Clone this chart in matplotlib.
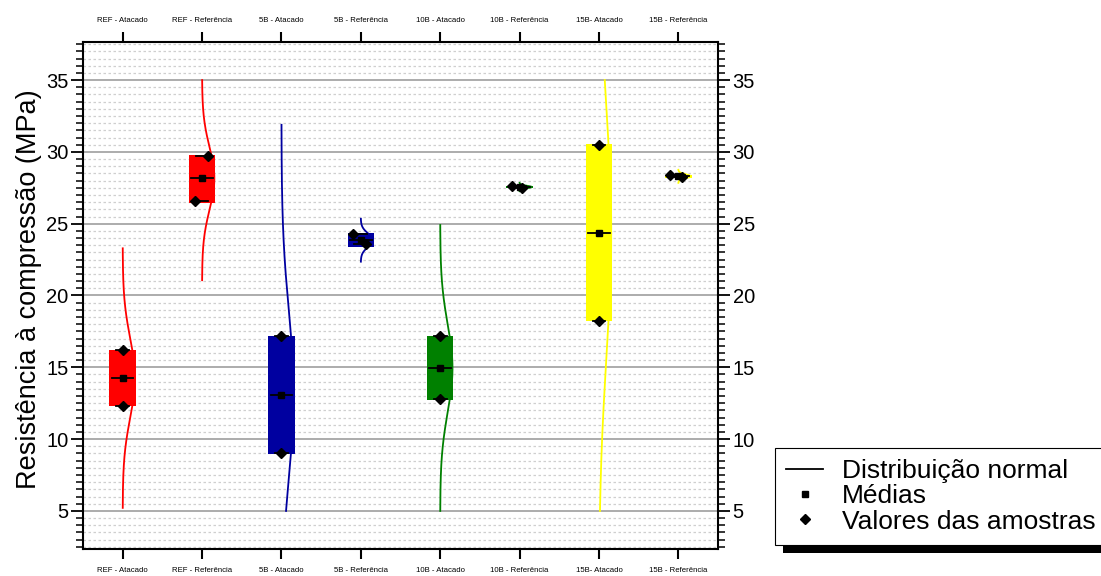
import numpy as np
import matplotlib
matplotlib.use("Agg")
import matplotlib.pyplot as plt
from matplotlib.patches import Rectangle
from matplotlib.lines import Line2D
from matplotlib.ticker import MultipleLocator

plt.rcParams["font.family"] = ["Liberation Sans", "DejaVu Sans"]

# ---- data -------------------------------------------------------------
groups = ["REF - Atacado", "REF - Referência", "5B - Atacado", "5B - Referência",
          "10B - Atacado", "10B - Referência", "15B- Atacado", "15B - Referência"]
colors = ["#ff0000", "#ff0000", "#0000a0", "#0000a0",
          "#008000", "#008000", "#ffff00", "#ffff00"]
means = [14.25, 28.15, 13.1, 23.85, 14.93, 27.55, 24.35, 28.3]
std_devs = [2.78, 2.18, 5.78, 0.46, 3.07, 0.09, 8.7, 0.14]
box_low = [12.3, 26.45, 8.95, 23.4, 12.75, 27.45, 18.2, 28.2]
box_high = [16.2, 29.75, 17.2, 24.35, 17.15, 27.62, 30.55, 28.4]
sample_high = [16.2, 29.7, 17.2, 24.25, 17.15, 27.62, 30.5, 28.4]
sample_low = [12.3, 26.55, 9.0, 23.57, 12.8, 27.5, 18.25, 28.22]

# horizontal spread of the sample markers (in category units)
spread_high = [0, 0.07, 0, -0.1, 0, -0.1, 0, -0.1]
spread_low = [0, -0.09, 0, 0.07, 0, 0.03, 0, 0.05]

# ---- figure -----------------------------------------------------------
W, H = 1101, 576
fig = plt.figure(figsize=(W / 100, H / 100), dpi=100)
ax = fig.add_axes([83 / W, 1 - 549 / H, (718 - 83) / W, (549 - 42) / H])

ax.set_xlim(0.5, 8.5)
ax.set_ylim(2.35, 37.65)

# grid
for y in np.arange(2.5, 38, 0.5):
    if abs(y / 5 - round(y / 5)) < 1e-9:
        ax.axhline(y, color="#a6a6a6", lw=1.3, zorder=1)
    else:
        ax.axhline(y, color="#cfcfcf", lw=0.9, ls=(0, (2, 2)), zorder=0.5)

box_w = 0.335
mid_w = 0.27
cap_w = 0.16
peak = 0.155
nsd = 3.25

for i, name in enumerate(groups):
    x0 = i + 1
    m, s, c = means[i], std_devs[i], colors[i]
    # normal distribution curve
    y = np.linspace(max(m - nsd * s, 5.0), min(m + nsd * s, 35.0), 300)
    xc = x0 + peak * np.exp(-0.5 * ((y - m) / s) ** 2)
    ax.plot(xc, y, color=c, lw=1.3, zorder=2)
    # box
    ax.add_patch(Rectangle((x0 - box_w / 2, box_low[i]), box_w,
                           box_high[i] - box_low[i], facecolor=c,
                           edgecolor="none", zorder=3))
    # whisker caps
    for yy in (sample_high[i], sample_low[i]):
        ax.plot([x0 - cap_w / 2, x0 + cap_w / 2], [yy, yy], color="black",
                lw=1.3, zorder=4)
    # mean line and marker
    ax.plot([x0 - mid_w / 2, x0 + mid_w / 2], [m, m], color="black", lw=1.3, zorder=4)
    ax.plot([x0], [m], marker="s", ms=4.5, color="black", ls="none", zorder=5)
    # sample values
    ax.plot([x0 + spread_high[i], x0 + spread_low[i]],
            [sample_high[i], sample_low[i]], marker="D", ms=5.5,
            color="black", ls="none", zorder=5)

# axes styling
for sp in ax.spines.values():
    sp.set_linewidth(1.5)

narrow = ["Liberation Sans Narrow", "Liberation Sans", "DejaVu Sans"]
ax.set_xticks(range(1, len(groups) + 1))
ax.set_xticklabels(groups)
ax.set_yticks([5, 10, 15, 20, 25, 30, 35])
ax.yaxis.set_minor_locator(MultipleLocator(0.5))

ax.tick_params(axis="x", which="major", direction="out", length=7, width=1.5,
               top=True, labeltop=True, bottom=True, labelbottom=True,
               labelsize=5.6, pad=6)
for t in ax.xaxis.get_major_ticks():
    t.label1.set_fontfamily(narrow)
    t.label2.set_fontfamily(narrow)
ax.tick_params(axis="y", which="major", direction="out", length=8.5, width=1.3,
               left=True, right=True, labelleft=True, labelright=True,
               labelsize=14.5, pad=2)
ax.tick_params(axis="y", which="minor", direction="out", length=5, width=1.1,
               left=True, right=True)

ax.set_ylabel("Resistência à compressão (MPa)", fontsize=19.5)
ax.yaxis.set_label_coords(-0.064, 0.512)

# legend
handles = [
    Line2D([], [], color="black", lw=1.3),
    Line2D([], [], color="black", marker="s", ms=5, ls="none"),
    Line2D([], [], color="black", marker="D", ms=5, ls="none"),
]
labels = ["Distribuição normal", "Médias", "Valores das amostras"]
leg = fig.legend(handles, labels, loc="upper left",
                 bbox_to_anchor=(775 / W, 1 - 448 / H), fontsize=19,
                 frameon=True, fancybox=False, edgecolor="black",
                 facecolor="white", framealpha=1.0,
                 borderpad=0.42, labelspacing=0.05, handlelength=1.4,
                 handletextpad=0.7, borderaxespad=0)
leg.get_frame().set_linewidth(0.8)
leg.set_zorder(10)

fig.canvas.draw()
bb = leg.get_window_extent()
shadow = Rectangle((bb.x0 + 8, bb.y0 - 8), bb.width, bb.height,
                   transform=None, facecolor="black", edgecolor="none", zorder=9)
fig.add_artist(shadow)

fig.savefig("out.png", dpi=100)
